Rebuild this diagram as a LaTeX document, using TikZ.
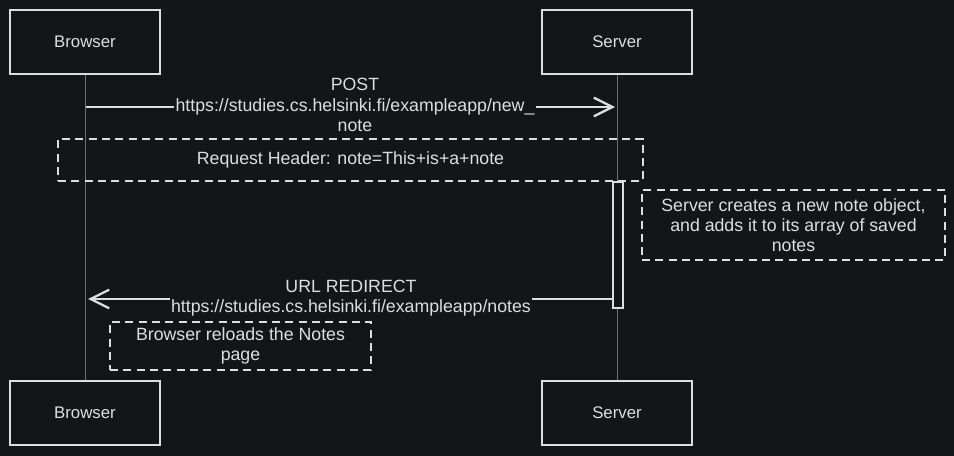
\documentclass[tikz,border=0pt]{standalone}
\usepackage{fontspec}
\setmainfont{Liberation Sans}
\usetikzlibrary{arrows.meta}

\definecolor{bgDark}{RGB}{19,21,25}
\definecolor{inkLight}{RGB}{222,222,222}
\definecolor{lifeGrey}{RGB}{110,110,112}

\tikzset{
  actorbox/.style={draw=inkLight, line width=1.3pt, fill=bgDark, minimum width=112.5pt, minimum height=48pt, text=inkLight, font=\fontsize{12.6}{15}\selectfont},
  lifeline/.style={draw=lifeGrey, line width=0.6pt},
  msgarrow/.style={draw=inkLight, line width=2pt, -{Straight Barb[length=14pt,width=14pt,line width=1.7pt]}},
  msglabel/.style={fill=bgDark, text=inkLight, align=center, inner sep=1pt, font=\fontsize{13.3}{15.5}\selectfont},
  notebox/.style={draw=inkLight, line width=1.5pt, dash pattern=on 6pt off 4pt, text=inkLight, align=center, font=\fontsize{13.3}{15}\selectfont}
}

\begin{document}
\begin{tikzpicture}[x=0.75pt,y=-0.75pt]
    % background and bounding box
    \fill[bgDark] (0,0) rectangle (954,456);
    \useasboundingbox (0,0) rectangle (954,456);

    % lifelines first, boxes drawn over them
    \coordinate (browserTopS) at (85,74);
    \coordinate (browserBotN) at (85,381);
    \coordinate (serverTopS) at (617,74);
    \coordinate (serverBotN) at (617,381);
    \draw[lifeline] (browserTopS) -- (browserBotN);
    \draw[lifeline] (serverTopS) -- (serverBotN);

    % participants
    \node[actorbox] (browserTop) at (85,42) {Browser};
    \node[actorbox] (serverTop) at (617,42) {Server};
    \node[actorbox] (browserBot) at (85,413) {Browser};
    \node[actorbox] (serverBot) at (617,413) {Server};

    % activation bar on the server
    \node[draw=inkLight, line width=1.2pt, fill=bgDark, minimum width=7.5pt, minimum height=94.5pt, inner sep=0pt] (serverAct) at (618,245) {};

    % POST request
    \coordinate (postFrom) at (86,107);
    \coordinate (postTo) at (615,107);
    \draw[msgarrow] (postFrom) -- (postTo);
    \node[msglabel] (postLabel) at (355,105) {POST\\https://studies.cs.helsinki.fi/exampleapp/new\_\\note};

    % request header note
    \node[notebox, minimum width=438.75pt, minimum height=31.5pt] (headerNote) at (350.5,160) {Request Header: note=This+is+a+note};

    % server side note
    \node[notebox, minimum width=227.25pt, minimum height=52.5pt] (serverNote) at (793.5,225) {Server creates a new note object,\\and adds it to its array of saved\\notes};

    % redirect response
    \coordinate (redirFrom) at (serverAct.west |- 0,299);
    \coordinate (redirTo) at (88,299);
    \draw[msgarrow] (redirFrom) -- (redirTo);
    \node[msglabel] (redirLabel) at (351,298) {URL REDIRECT\\https://studies.cs.helsinki.fi/exampleapp/notes};

    % browser note
    \node[notebox, minimum width=195.75pt, minimum height=36pt] (browserNote) at (240.5,346) {Browser reloads the Notes\\page};

\end{tikzpicture}
\end{document}
